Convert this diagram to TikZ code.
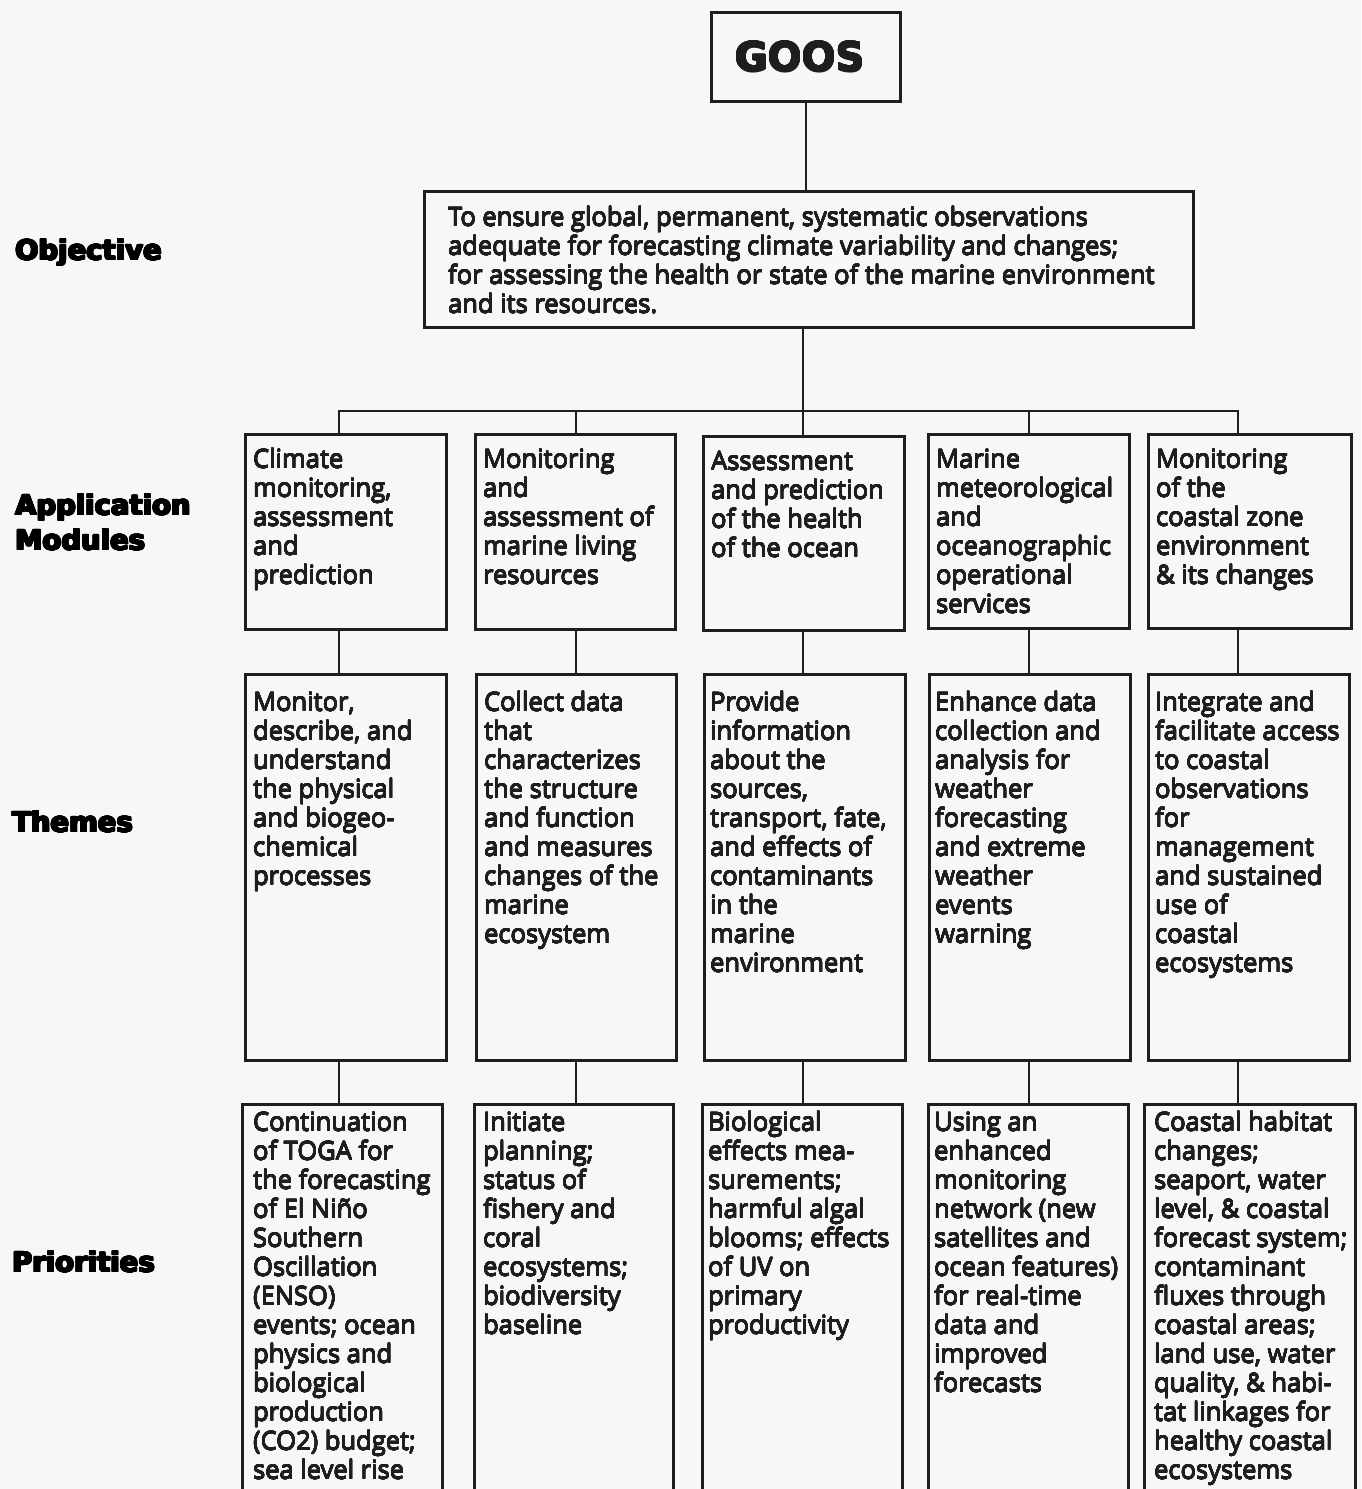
\documentclass[tikz,border=0pt]{standalone}
\usepackage{fontspec}
\usepackage[copies]{contour}
\setmainfont{Open Sans}
\newfontfamily\bodyfont{Open Sans}
\newfontfamily\labfont{DejaVu Sans Bold}
\usetikzlibrary{calc}
\definecolor{ink}{HTML}{1E1E1E}
\definecolor{paper}{HTML}{F7F7F5}
\contournumber{16}
\newcommand\gbox[5]{\node[boxnode, minimum width=#4pt-#2pt, minimum height=#5pt-#3pt] (#1) at (#2,#3) {};}
\newcommand\gtxt[4]{\node[txt] (#1) at ($(#2.north west)+(#3)$) {\contourlength{0.22pt}\contour{ink}{\begin{tabular}[t]{@{}l@{}}#4\end{tabular}}};}
\newcommand\heavy[1]{\contourlength{0.9pt}\contour{black}{#1}}
\begin{document}
\begin{tikzpicture}[x=1pt,y=-1pt,
  boxnode/.style={draw=ink, line width=3.1pt, inner sep=0pt, anchor=north west},
  txt/.style={anchor=base west, inner sep=0pt,
    font=\bodyfont\fontsize{25.5}{29}\selectfont, text=ink},
  lab/.style={anchor=base west, inner sep=0pt, font=\labfont\fontsize{27.5}{34}\selectfont, text=black},
  conn/.style={draw=ink, line width=2.8pt}]
\fill[paper] (0,0) rectangle (1361,1489);
\useasboundingbox (0,0) rectangle (1361,1489);

% row labels
\node[lab] (lobj) at (15,260) {\heavy{Objective}};
\node[lab] (lapp) at (15,515) {\heavy{Application}};
\node[lab] (lmod) at (15,550) {\heavy{Modules}};
\node[lab] (lthe) at (12,832) {\heavy{Themes}};
\node[lab] (lpri) at (12,1272) {\heavy{Priorities}};

% GOOS
\node[boxnode, minimum width=189pt, minimum height=89pt, text=ink,
  font=\labfont\fontsize{40}{44}\selectfont] (goos) at (710,11) {\hspace*{-12pt}\contourlength{0.9pt}\contour{ink}{GOOS}};

% Objective
\gbox{obj}{423}{190}{1192}{326}
\gtxt{objt}{obj}{25,36}{To ensure global, permanent, systematic observations\\adequate for forecasting climate variability and changes;\\for assessing the health or state of the marine environment\\and its resources.}

% Application modules
\gbox{a1}{244}{433}{445}{628}
\gbox{a2}{474}{433}{674}{628}
\gbox{a3}{702}{435}{903}{629}
\gbox{a4}{927}{433}{1128}{627}
\gbox{a5}{1147}{433}{1350}{627}
\gtxt{a1t}{a1}{9,35}{Climate\\monitoring,\\assessment\\and\\prediction}
\gtxt{a2t}{a2}{9,35}{Monitoring\\and\\assessment of\\marine living\\resources}
\gtxt{a3t}{a3}{9,35}{Assessment\\and prediction\\of the health\\of the ocean}
\gtxt{a4t}{a4}{9,35}{Marine\\meteorological\\and\\oceanographic\\operational\\services}
\gtxt{a5t}{a5}{9,35}{Monitoring\\of the\\coastal zone\\environment\\\& its changes}

% Themes
\gbox{t1}{244}{673}{445}{1059}
\gbox{t2}{475}{673}{675}{1059}
\gbox{t3}{703}{673}{904}{1059}
\gbox{t4}{928}{673}{1129}{1059}
\gbox{t5}{1147}{673}{1348}{1059}
\gtxt{t1t}{t1}{9,38}{Monitor,\\describe, and\\understand\\the physical\\and biogeo-\\chemical\\processes}
\gtxt{t2t}{t2}{9,38}{Collect data\\that\\characterizes\\the structure\\and function\\and measures\\changes of the\\marine\\ecosystem}
\gtxt{t3t}{t3}{7,38}{Provide\\information\\about the\\sources,\\transport, fate,\\and effects of\\contaminants\\in the\\marine\\environment}
\gtxt{t4t}{t4}{7,38}{Enhance data\\collection and\\analysis for\\weather\\forecasting\\and extreme\\weather\\events\\warning}
\gtxt{t5t}{t5}{8,38}{Integrate and\\facilitate access\\to coastal\\observations\\for\\management\\and sustained\\use of\\coastal\\ecosystems}

% Priorities
\gbox{p1}{241}{1103}{441}{1500}
\gbox{p2}{473}{1103}{672}{1500}
\gbox{p3}{701}{1103}{901}{1500}
\gbox{p4}{927}{1103}{1127}{1500}
\gbox{p5}{1143}{1103}{1354}{1500}
\gtxt{p1t}{p1}{12,28}{Continuation\\of TOGA for\\the forecasting\\of El Niño\\Southern\\Oscillation\\(ENSO)\\events; ocean\\physics and\\biological\\production\\(CO2) budget;\\sea level rise}
\gtxt{p2t}{p2}{10,28}{Initiate\\planning;\\status of\\fishery and\\coral\\ecosystems;\\biodiversity\\baseline}
\gtxt{p3t}{p3}{7,28}{Biological\\effects mea-\\surements;\\harmful algal\\blooms; effects\\of UV on\\primary\\productivity}
\gtxt{p4t}{p4}{7,28}{Using an\\enhanced\\monitoring\\network (new\\satellites and\\ocean features)\\for real-time\\data and\\improved\\forecasts}
\gtxt{p5t}{p5}{11,28}{Coastal habitat\\changes;\\seaport, water\\level, \& coastal\\forecast system;\\contaminant\\fluxes through\\coastal areas;\\land use, water\\quality, \& habi-\\tat linkages for\\healthy coastal\\ecosystems}

% connectors
\coordinate (c1) at (339,411);
\coordinate (c2) at (576,411);
\coordinate (c3) at (803,411);
\coordinate (c4) at (1029,411);
\coordinate (c5) at (1238,411);
\draw[conn] (goos.south) -- (goos.south |- obj.north);
\draw[conn] (obj.south -| c3) -- (c3);
\draw[conn] (c1 |- a1.north) -- (c1) -- (c5) -- (c5 |- a5.north);
\draw[conn] (c2) -- (c2 |- a2.north);
\draw[conn] (c3) -- (c3 |- a3.north);
\draw[conn] (c4) -- (c4 |- a4.north);
\foreach \i in {1,...,5}{
  \draw[conn] (a\i.south -| c\i) -- (t\i.north -| c\i);
  \draw[conn] (t\i.south -| c\i) -- (p\i.north -| c\i);
}
\end{tikzpicture}
\end{document}
